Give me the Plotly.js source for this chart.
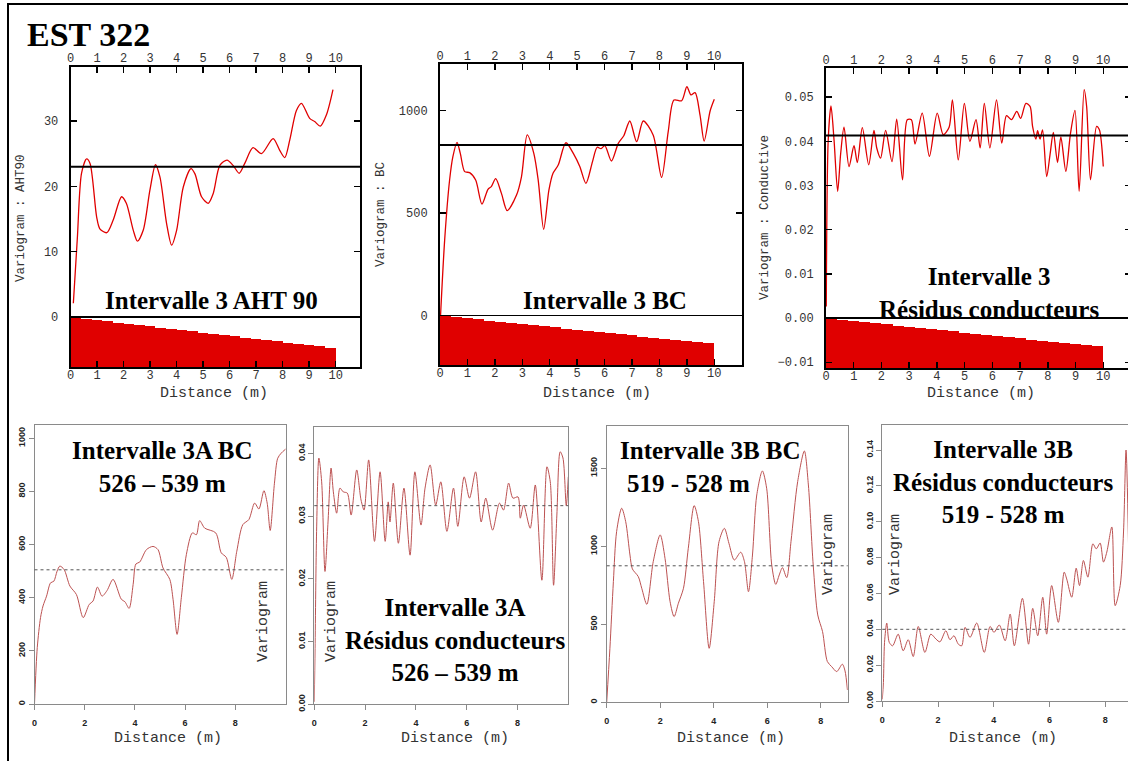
<!DOCTYPE html>
<html>
<head>
<meta charset="utf-8">
<script src="https://cdn.plot.ly/plotly-3.0.1.min.js"></script>
<style>
html,body{margin:0;padding:0;overflow:hidden;background:#fff;}
#chart{width:1140px;height:770px;}
</style>
</head>
<body>
<div id="chart"></div>
<script>
// ---------- DATA ----------
// Panel 1 : Intervalle 3 AHT 90
const ahtLag = [0.1,0.25,0.41,0.6,0.73,0.98,1.1,1.36,1.6,1.92,2.1,2.36,2.52,2.74,2.99,3.2,3.37,3.62,3.81,4.0,4.25,4.54,4.69,4.94,5.19,5.38,5.63,5.9,6.13,6.36,6.57,6.88,7.2,7.64,7.89,8.08,8.27,8.52,8.71,9.02,9.21,9.42,9.65,9.9];
const ahtVar = [2.1,12,22,24.2,23.5,15.3,13.5,12.9,14.8,18.4,17.4,13.3,11.6,13.3,19.4,23.3,21.4,14.3,11.0,13.3,19.9,22.7,21.9,18.4,17.4,18.9,23.2,24.0,23.2,22.0,23.5,25.9,25.0,27.3,25.5,24.4,27.1,31.6,32.7,30.4,29.9,29.2,30.9,34.8];
const ahtSill = 23;
// Panel 2 : Intervalle 3 BC
const bcLag = [0.02,0.17,0.35,0.47,0.62,0.74,0.9,1.08,1.3,1.53,1.75,1.87,2.03,2.24,2.45,2.79,2.97,3.18,3.42,3.58,3.78,3.97,4.12,4.31,4.59,4.88,5.1,5.32,5.56,5.73,5.87,6.01,6.25,6.5,6.7,6.92,7.17,7.41,7.77,8.08,8.32,8.53,8.81,9.0,9.15,9.3,9.48,9.63,9.85,10.0];
const bcVar = [0,367,660,774,844,790,701,696,660,543,615,628,667,595,511,587,676,880,790,660,420,611,693,733,842,785,725,644,750,820,813,828,753,839,876,948,847,948,880,673,896,1050,1047,1115,1075,1086,977,850,998,1054];
const bcSill = 831;
// Panel 3 : Intervalle 3 Résidus conducteurs
const condLag = [0.01,0.08,0.18,0.29,0.42,0.53,0.65,0.83,1.01,1.13,1.31,1.54,1.73,1.83,1.97,2.15,2.38,2.55,2.76,2.93,3.08,3.21,3.47,3.73,4.01,4.23,4.44,4.56,4.77,4.99,5.19,5.41,5.56,5.71,5.91,6.15,6.34,6.51,6.69,6.88,7.02,7.21,7.36,7.45,7.57,7.63,7.72,7.81,7.96,8.08,8.2,8.35,8.47,8.65,8.82,8.98,9.13,9.31,9.4,9.54,9.76,9.86,10.0];
const condVar = [0.0026,0.0403,0.048,0.0403,0.0287,0.0373,0.0432,0.0343,0.039,0.0352,0.0431,0.0347,0.0425,0.0385,0.0362,0.0425,0.0354,0.045,0.0313,0.0449,0.0449,0.0394,0.0464,0.0366,0.0464,0.0415,0.0432,0.0494,0.0358,0.0486,0.04,0.0449,0.0385,0.0486,0.0385,0.0494,0.0396,0.0458,0.0449,0.0468,0.0452,0.0486,0.0479,0.0434,0.0405,0.0424,0.0405,0.0426,0.032,0.037,0.042,0.0352,0.041,0.0332,0.0419,0.047,0.0287,0.0517,0.0479,0.0313,0.0434,0.0426,0.0343];
const condSill = 0.0413;
// Pair-count histograms (bar tops, in each panel's units)
const histLag = [0.2,0.6,1.0,1.4,1.8,2.2,2.6,3.0,3.4,3.8,4.2,4.6,5.0,5.4,5.8,6.2,6.6,7.0,7.4,7.8,8.2,8.6,9.0,9.4,9.8];
const ahtHist = [-0.1,-0.29,-0.48,-0.67,-0.86,-1.06,-1.25,-1.44,-1.63,-1.82,-2.02,-2.21,-2.4,-2.59,-2.78,-2.98,-3.17,-3.36,-3.55,-3.74,-3.94,-4.13,-4.32,-4.51,-4.7];
const bcHist = [-3,-8,-14,-20,-25,-31,-36,-42,-48,-53,-59,-64,-70,-76,-81,-87,-92,-98,-104,-109,-115,-120,-126,-132,-137];
const condHist = [-0.00013,-0.00039,-0.00066,-0.00092,-0.00118,-0.00144,-0.00171,-0.00197,-0.00223,-0.00249,-0.00276,-0.00302,-0.00328,-0.00354,-0.0038,-0.00407,-0.00433,-0.00459,-0.00485,-0.00512,-0.00538,-0.00564,-0.0059,-0.00617,-0.00643];
// Panel 4 : Intervalle 3A BC
const bc3aLag = [0,0.11,0.24,0.34,0.48,0.64,0.77,0.9,1.01,1.18,1.41,1.67,1.94,2.18,2.33,2.51,2.69,2.89,3.13,3.46,3.6,3.77,3.93,4.04,4.19,4.46,4.72,4.92,5.12,5.39,5.52,5.68,5.85,6.05,6.29,6.45,6.58,6.78,7.22,7.44,7.64,7.86,8.06,8.3,8.54,8.77,8.94,9.14,9.27,9.39,9.56,9.69,9.83,10.0];
const bc3aVar = [0,212,325,369,406,456,462,500,519,506,444,412,325,375,387,440,406,427,469,394,385,360,450,527,534,581,593,581,512,469,394,262,400,562,644,637,690,662,644,569,552,469,575,675,694,756,734,803,756,653,831,925,944,959];
const bc3aSill = 505;
// Panel 5 : Intervalle 3A Résidus conducteurs
const res3aLag = [0,0.03,0.09,0.18,0.29,0.42,0.54,0.66,0.75,0.88,1.01,1.14,1.3,1.45,1.67,1.84,1.96,2.14,2.37,2.59,2.79,2.91,2.98,3.11,3.31,3.53,3.77,3.96,4.2,4.36,4.56,4.78,4.98,5.22,5.48,5.65,5.9,6.11,6.35,6.57,6.75,7.02,7.29,7.45,7.65,7.82,8.02,8.11,8.24,8.5,8.7,8.96,9.16,9.29,9.42,9.55,9.68,9.79,9.92,10.0];
const res3aVar = [0.0004,0.0089,0.0276,0.0393,0.0355,0.0212,0.0291,0.0377,0.0339,0.0305,0.0345,0.0339,0.0337,0.0302,0.0374,0.0326,0.031,0.039,0.026,0.0371,0.026,0.0323,0.0291,0.0353,0.0257,0.0345,0.0238,0.0371,0.0286,0.0345,0.0382,0.0318,0.0355,0.0276,0.0345,0.0284,0.0363,0.0329,0.0371,0.0291,0.0329,0.0278,0.0321,0.031,0.0353,0.0329,0.0331,0.0297,0.0318,0.0281,0.035,0.0198,0.0379,0.0355,0.019,0.0302,0.0403,0.0393,0.0317,0.0363];
const res3aSill = 0.0317;
// Panel 6 : Intervalle 3B BC
const bc3bLag = [0,0.12,0.25,0.37,0.56,0.71,0.87,0.96,1.18,1.31,1.5,1.74,2.0,2.18,2.37,2.52,2.68,2.87,3.05,3.27,3.43,3.62,3.83,4.02,4.2,4.4,4.57,4.77,5.01,5.15,5.3,5.45,5.61,5.82,5.98,6.17,6.32,6.45,6.57,6.73,6.89,7.14,7.39,7.54,7.72,7.89,8.07,8.25,8.41,8.6,8.81,8.91,9.0];
const bc3bVar = [0,346,774,1094,1244,1158,944,855,806,731,628,902,1073,923,645,549,635,731,987,1261,1158,774,346,645,1030,1115,1019,912,962,902,709,944,1329,1483,1372,880,756,816,863,799,1030,1415,1611,1393,880,560,453,261,229,197,244,201,79];
const bc3bSill = 875;
// Panel 7 : Intervalle 3B Résidus conducteurs
const res3bLag = [0,0.04,0.08,0.16,0.25,0.37,0.57,0.75,0.93,1.11,1.29,1.53,1.74,1.93,2.07,2.28,2.43,2.57,2.73,2.85,2.97,3.15,3.39,3.66,3.87,4.01,4.2,4.41,4.59,4.74,5.03,5.25,5.4,5.58,5.76,5.9,6.08,6.32,6.53,6.62,6.8,6.96,7.08,7.22,7.38,7.56,7.68,7.82,7.94,8.06,8.24,8.36,8.54,8.66,8.75,8.84];
const res3bVar = [0.0009,0.0103,0.0327,0.0435,0.0327,0.0308,0.0373,0.028,0.0342,0.0248,0.0416,0.0271,0.0373,0.0345,0.033,0.0392,0.0342,0.0364,0.0317,0.0308,0.0411,0.0355,0.0435,0.0271,0.0416,0.0383,0.0424,0.0336,0.0485,0.0308,0.0573,0.0317,0.0517,0.0364,0.0579,0.0373,0.0644,0.0439,0.0719,0.0681,0.0579,0.0741,0.0644,0.0784,0.0691,0.0877,0.0849,0.0881,0.0775,0.0831,0.0971,0.0532,0.0644,0.0943,0.14,0.0868];
const res3bSill = 0.040;
// Tick labels
const topTicks = [0,1,2,3,4,5,6,7,8,9,10];
const botTicks = [0,2,4,6,8];

// ---------- LAYOUT HELPERS ----------
const W = 1140, H = 770;
const dx = (a, b) => [a / W, b / W];
const dy = (top, bottom) => [1 - bottom / H, 1 - top / H];
const PX = x => x / W, PY = y => 1 - y / H;

const MONO = 'Liberation Mono, Courier New, monospace';
const SERIF = 'Liberation Serif, Times New Roman, serif';
const RED = '#e00000';
const DARKRED = '#bc5252';

function topX(dom, rng, anchor) {
  return {domain: dom, range: rng, anchor: anchor, tickmode: 'array', tickvals: topTicks, showline: true, linecolor: 'black', linewidth: 2,
    mirror: 'ticks', ticks: 'inside', ticklen: 6, tickwidth: 1.5, tickcolor: 'black', ticklabelstandoff: -4,
    tickfont: {family: MONO, size: 12, color: '#333'}, showgrid: false, zeroline: false, fixedrange: true};
}
function topXTop(over, anchor, rng) {
  return {overlaying: over, anchor: anchor, side: 'top', range: rng, tickmode: 'array', tickvals: topTicks, ticks: '',
    showline: false, showgrid: false, zeroline: false, ticklabelstandoff: 1,
    tickfont: {family: MONO, size: 12, color: '#333'}, fixedrange: true};
}
function topY(dom, rng, anchor, dt, fmt) {
  const a = {domain: dom, range: rng, anchor: anchor, dtick: dt, tick0: 0, showline: true, linecolor: 'black', linewidth: 2,
    mirror: 'ticks', ticks: 'inside', ticklen: 6, tickwidth: 1.5, tickcolor: 'black', ticklabelstandoff: 8,
    tickfont: {family: MONO, size: 12, color: '#333'}, showgrid: false,
    zeroline: true, zerolinecolor: 'black', zerolinewidth: 1.5, fixedrange: true};
  if (fmt) a.tickformat = fmt;
  return a;
}
function botX(dom, rng, anchor) {
  return {domain: dom, range: rng, anchor: anchor, tickmode: 'array', tickvals: botTicks, showline: true, linecolor: '#8a8a8a', linewidth: 1,
    mirror: true, ticks: 'outside', ticklen: 5, tickwidth: 1, tickcolor: '#8a8a8a', ticklabelstandoff: 5,
    tickfont: {family: 'Liberation Sans, Arial, sans-serif', size: 9, color: '#222', weight: 'bold'},
    showgrid: false, zeroline: false, fixedrange: true};
}
function botY(dom, rng, anchor, dt, fmt) {
  const a = {domain: dom, range: rng, anchor: anchor, dtick: dt, tick0: 0, showline: true, linecolor: '#8a8a8a', linewidth: 1,
    mirror: true, ticks: 'outside', ticklen: 5, tickwidth: 1, tickcolor: '#8a8a8a', tickangle: -90,
    tickfont: {family: 'Liberation Sans, Arial, sans-serif', size: 9, color: '#222', weight: 'bold'},
    showgrid: false, zeroline: false, fixedrange: true};
  if (fmt) a.tickformat = fmt;
  return a;
}

const R1 = [-7.65, 38.3], R2 = [-242, 1226], R3 = [-0.0113, 0.0566];

// ---------- TRACES ----------
function line(x, y, xa, ya, color, w) {
  return {type: 'scatter', mode: 'lines', x: x, y: y, xaxis: xa, yaxis: ya,
    line: {color: color, width: w, shape: 'spline', smoothing: 0.8}, hoverinfo: 'skip'};
}
function hist(tops, base, xa, ya) {
  return {type: 'bar', x: histLag, y: tops.map(t => t - base), base: base, width: 0.4,
    xaxis: xa, yaxis: ya, marker: {color: RED, line: {width: 0}}, hoverinfo: 'skip'};
}
// invisible carrier so the top (overlay) distance axes get drawn
function ghost(x, y, xa, ya) {
  return {type: 'scatter', mode: 'lines', x: x, y: y, xaxis: xa, yaxis: ya, opacity: 0,
    line: {width: 0}, hoverinfo: 'skip'};
}

const traces = [
  hist(ahtHist, R1[0], 'x', 'y'),
  line(ahtLag, ahtVar, 'x', 'y', RED, 1.3),
  ghost(ahtLag, ahtVar, 'x8', 'y'),
  hist(bcHist, R2[0], 'x2', 'y2'),
  line(bcLag, bcVar, 'x2', 'y2', RED, 1.3),
  ghost(bcLag, bcVar, 'x9', 'y2'),
  hist(condHist, R3[0], 'x3', 'y3'),
  line(condLag, condVar, 'x3', 'y3', RED, 1.3),
  ghost(condLag, condVar, 'x10', 'y3'),
  line(bc3aLag, bc3aVar, 'x4', 'y4', DARKRED, 1),
  line(res3aLag, res3aVar, 'x5', 'y5', DARKRED, 1),
  line(bc3bLag, bc3bVar, 'x6', 'y6', DARKRED, 1),
  line(res3bLag, res3bVar, 'x7', 'y7', DARKRED, 1)
];

function sill(v, xa, ya, dash) {
  return {type: 'line', xref: xa + ' domain', yref: ya, x0: 0, x1: 1, y0: v, y1: v,
    line: dash ? {color: '#555', width: 1, dash: 'dot'} : {color: 'black', width: 2}};
}

function ann(text, x, y, size, extra) {
  return Object.assign({text: text, xref: 'paper', yref: 'paper', x: PX(x), y: PY(y),
    xanchor: 'center', yanchor: 'middle', showarrow: false,
    font: {family: SERIF, size: size, color: 'black', weight: 'bold'}}, extra || {});
}
function mono(text, x, y, size, angle) {
  return {text: text, xref: 'paper', yref: 'paper', x: PX(x), y: PY(y), xanchor: 'center', yanchor: 'middle',
    showarrow: false, textangle: angle || 0, font: {family: MONO, size: size, color: '#333'}};
}

const layout = {
  width: W, height: H, margin: {l: 0, r: 0, t: 0, b: 0}, showlegend: false,
  paper_bgcolor: 'white', plot_bgcolor: 'white', bargap: 0,
  xaxis: topX(dx(70.7, 360), [0, 10.92], 'y'),
  yaxis: topY(dy(66.7, 367), R1, 'x', 10),
  xaxis8: topXTop('x', 'y', [0, 10.92]),
  xaxis2: topX(dx(440, 742), [0, 11.01], 'y2'),
  yaxis2: topY(dy(64, 365), R2, 'x2', 500),
  xaxis9: topXTop('x2', 'y2', [0, 11.01]),
  xaxis3: topX(dx(826, 1131), [0, 11.0], 'y3'),
  yaxis3: topY(dy(68, 368), R3, 'x3', 0.01, '.2f'),
  xaxis10: topXTop('x3', 'y3', [0, 11.0]),
  xaxis4: botX(dx(34.5, 286), [0, 10.02], 'y4'),
  yaxis4: botY(dy(425, 704), [0, 1050], 'x4', 200),
  xaxis5: botX(dx(314.3, 568.3), [0, 10.0], 'y5'),
  yaxis5: botY(dy(426.7, 704.3), [0, 0.0443], 'x5', 0.01, '.2f'),
  xaxis6: botX(dx(606.7, 847.7), [0, 9.01], 'y6'),
  yaxis6: botY(dy(425.7, 702.3), [0, 1773], 'x6', 500),
  xaxis7: botX(dx(882.3, 1133), [0, 9.0], 'y7'),
  yaxis7: botY(dy(425, 701), [0, 0.154], 'x7', 0.02, '.2f'),
  shapes: [
    {type: 'rect', xref: 'paper', yref: 'paper', x0: PX(8), x1: PX(1136), y0: PY(766), y1: PY(4),
      line: {color: 'black', width: 2}, fillcolor: 'rgba(0,0,0,0)'},
    sill(ahtSill, 'x', 'y'), sill(bcSill, 'x2', 'y2'), sill(condSill, 'x3', 'y3'),
    sill(bc3aSill, 'x4', 'y4', true), sill(res3aSill, 'x5', 'y5', true),
    sill(bc3bSill, 'x6', 'y6', true), sill(res3bSill, 'x7', 'y7', true)
  ],
  annotations: [
    ann('EST 322', 25, 34, 34, {xanchor: 'left'}),
    ann('Intervalle 3 AHT 90', 211, 300, 25),
    ann('Intervalle 3 BC', 605, 300, 25),
    ann('Intervalle 3<br>Résidus conducteurs', 989, 293, 25),
    ann('Intervalle 3A BC<br>526 – 539 m', 162, 467, 25),
    ann('Intervalle 3A<br>Résidus conducteurs<br>526 – 539 m', 455, 640, 25),
    ann('Intervalle 3B BC', 710, 450, 25),
    ann('519 - 528 m', 688, 483, 25),
    ann('Intervalle 3B<br>Résidus conducteurs<br>519 - 528 m', 1003, 482, 25),
    mono('Variogram : AHT90', 21, 218, 12.5, -90),
    mono('Variogram : BC', 381, 215, 12.5, -90),
    mono('Variogram : Conductive', 765, 218, 12.5, -90),
    mono('Distance (m)', 214, 393, 15),
    mono('Distance (m)', 597, 393, 15),
    mono('Distance (m)', 981, 393, 15),
    mono('Distance (m)', 168, 738, 15),
    mono('Distance (m)', 455, 738, 15),
    mono('Distance (m)', 731, 738, 15),
    mono('Distance (m)', 1003, 738, 15),
    mono('Variogram', 263, 622, 15, -90),
    mono('Variogram', 331, 622, 15, -90),
    mono('Variogram', 828, 555, 15, -90),
    mono('Variogram', 895, 555, 15, -90)
  ]
};

Plotly.newPlot('chart', traces, layout, {staticPlot: true, displayModeBar: false});
</script>
</body>
</html>
